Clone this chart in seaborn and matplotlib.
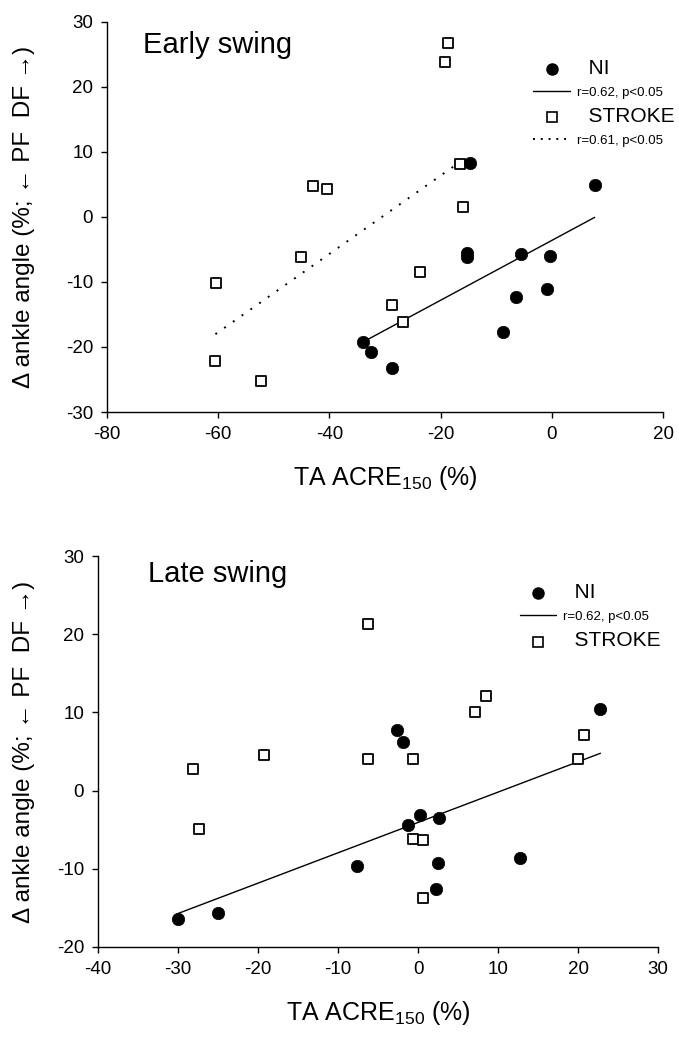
import numpy as np
import pandas as pd
import matplotlib
matplotlib.use('Agg')
import matplotlib.pyplot as plt
from matplotlib.lines import Line2D
import seaborn as sns

# 样式
sns.set_style('ticks')
plt.rcParams['font.family'] = ['Liberation Sans', 'DejaVu Sans']
plt.rcParams['mathtext.default'] = 'regular'
plt.rcParams['axes.unicode_minus'] = False
for key in ['text.color', 'axes.labelcolor', 'xtick.color', 'ytick.color', 'axes.edgecolor']:
    plt.rcParams[key] = 'black'

# Early swing
early_ni_x = [-33.9, -32.6, -28.7, -15.3, -15.2, -14.8, -8.7, -6.5, -5.6, -0.9, -0.4, 7.7]
early_ni_y = [-19.2, -20.8, -23.2, -5.5, -6.2, 8.3, -17.7, -12.3, -5.7, -11.1, -6.0, 4.9]
early_stroke_x = [-60.5, -60.4, -52.3, -45.2, -42.9, -40.4, -28.8, -26.7, -23.8, -19.3, -18.7, -16.6, -16.0]
early_stroke_y = [-22.2, -10.2, -25.2, -6.2, 4.8, 4.3, -13.5, -16.2, -8.5, 23.8, 26.8, 8.2, 1.5]

# Late swing
late_ni_x = [-30.0, -25.0, -7.6, -2.6, -1.9, -1.2, 0.3, 2.6, 2.5, 2.3, 12.8, 22.8]
late_ni_y = [-16.4, -15.6, -9.6, 7.8, 6.2, -4.4, -3.1, -3.5, -9.2, -12.6, -8.6, 10.4]
late_stroke_x = [-28.1, -27.4, -19.3, -6.3, -6.3, -0.6, -0.6, 0.6, 0.6, 7.1, 8.5, 20.0, 20.8]
late_stroke_y = [2.7, -4.9, 4.6, 21.3, 4.1, 4.1, -6.2, -6.3, -13.7, 10.0, 12.1, 4.0, 7.1]

early_xticks = [-80, -60, -40, -20, 0, 20]
early_yticks = [-30, -20, -10, 0, 10, 20, 30]
late_xticks = [-40, -30, -20, -10, 0, 10, 20, 30]
late_yticks = [-20, -10, 0, 10, 20, 30]

ylabel = 'Δ ankle angle (%; ← PF  DF →)'
xlabel = 'TA ACRE$_{150}$ (%)'


def draw_panel(ax, title, ni_x, ni_y, st_x, st_y, xticks, yticks, stroke_fit, legend_labels, title_pos, leg_anchor):
    sns.scatterplot(x=st_x, y=st_y, ax=ax, marker='s', s=45, facecolor='white',
                    edgecolor='black', linewidth=1.3, zorder=3)
    sns.scatterplot(x=ni_x, y=ni_y, ax=ax, marker='o', s=80, color='black',
                    edgecolor='black', linewidth=0.5, zorder=4)
    sns.regplot(x=ni_x, y=ni_y, ax=ax, scatter=False, ci=None, truncate=True,
                line_kws={'color': 'black', 'lw': 1.0, 'zorder': 2})
    if stroke_fit:
        sns.regplot(x=st_x, y=st_y, ax=ax, scatter=False, ci=None, truncate=True,
                    line_kws={'color': 'black', 'lw': 1.4, 'ls': (0, (1, 4.5)), 'zorder': 2})

    ax.set_xlim(xticks[0], xticks[-1])
    ax.set_ylim(yticks[0], yticks[-1])
    ax.set_xticks(xticks)
    ax.set_yticks(yticks)
    sns.despine(ax=ax)
    for sp in ['left', 'bottom']:
        ax.spines[sp].set_linewidth(1.0)
    ax.tick_params(direction='out', length=4, width=1, labelsize=13.5, pad=6)

    ax.set_xlabel(xlabel, fontsize=18, labelpad=15)
    ax.set_ylabel(ylabel, fontsize=17.5)
    ax.text(title_pos[0], title_pos[1], title, transform=ax.transAxes, fontsize=21,
            va='center', ha='left')

    handles = [Line2D([], [], marker='o', color='black', ls='none', ms=8),
               Line2D([], [], color='black', lw=1.0),
               Line2D([], [], marker='s', mfc='white', mec='black', mew=1.2, ls='none', ms=6.5)]
    if stroke_fit:
        handles.append(Line2D([], [], color='black', lw=1.4, ls=(0, (1, 3))))
    leg = ax.legend(handles, legend_labels, loc='upper right', bbox_to_anchor=leg_anchor,
                    frameon=False, handlelength=2.6, handletextpad=0.5, labelspacing=0.6,
                    borderaxespad=0)
    for t in leg.get_texts():
        if t.get_text().startswith('r='):
            t.set_fontsize(9.5)
        else:
            t.set_fontsize(15)


fig = plt.figure(figsize=(6.79, 10.37), dpi=100)
ax1 = fig.add_axes([0.1576, 0.6027, 0.8189, 0.3761])
ax2 = fig.add_axes([0.1443, 0.0868, 0.8248, 0.3770])

draw_panel(ax1, 'Early swing', early_ni_x, early_ni_y, early_stroke_x, early_stroke_y,
           early_xticks, early_yticks, True,
           ['  NI', 'r=0.62, p<0.05', '  STROKE', 'r=0.61, p<0.05'],
           (0.065, 0.94), (1.03, 0.92))
draw_panel(ax2, 'Late swing', late_ni_x, late_ni_y, late_stroke_x, late_stroke_y,
           late_xticks, late_yticks, False,
           ['  NI', 'r=0.62, p<0.05', '  STROKE'],
           (0.089, 0.955), (1.015, 0.945))

ax1.yaxis.set_label_coords(-0.13, 0.5)
ax2.yaxis.set_label_coords(-0.113, 0.5)

fig.savefig('out.png', dpi=100)
